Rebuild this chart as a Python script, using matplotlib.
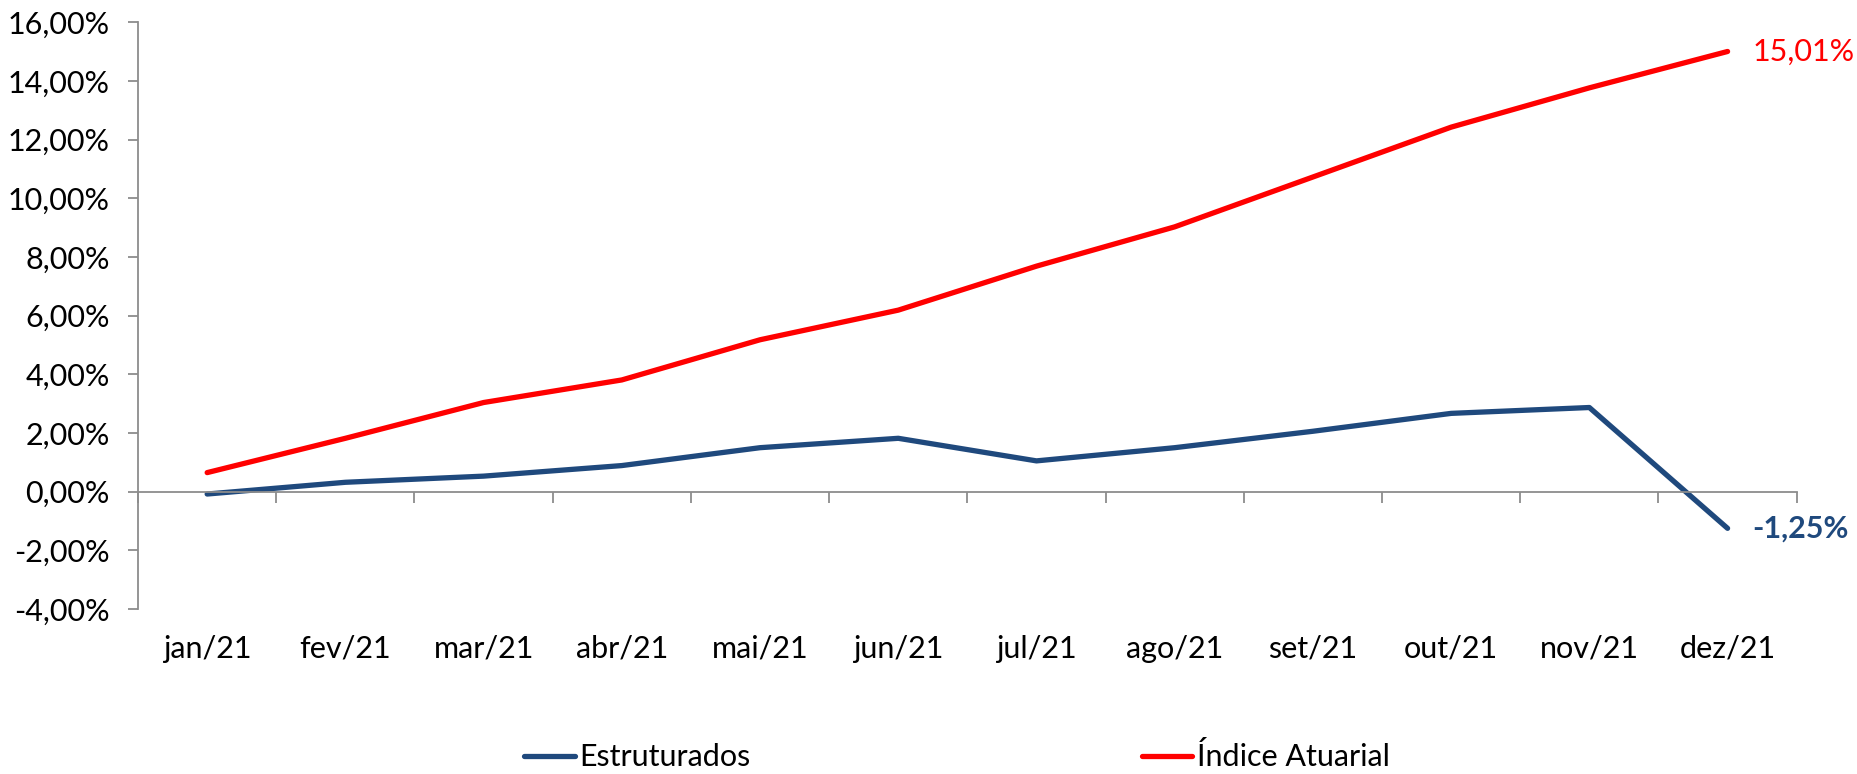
import matplotlib.pyplot as plt
from matplotlib.ticker import FuncFormatter, FixedLocator
import numpy as np

plt.rcParams['font.family'] = ['Lato', 'DejaVu Sans']

meses = ['jan/21', 'fev/21', 'mar/21', 'abr/21', 'mai/21', 'jun/21',
         'jul/21', 'ago/21', 'set/21', 'out/21', 'nov/21', 'dez/21']
estruturados = [-0.08, 0.32, 0.53, 0.89, 1.50, 1.82, 1.05, 1.50, 2.06, 2.67, 2.87, -1.25]
indice_atuarial = [0.65, 1.82, 3.04, 3.81, 5.18, 6.19, 7.69, 9.03, 10.73, 12.43, 13.77, 15.01]

azul = '#1F497D'
vermelho = '#FF0000'
cinza = '#8C8C8C'
fs = 22

fig = plt.figure(figsize=(18.58, 7.74), dpi=100)
ax = fig.add_axes([0.0743, 0.2132, 0.8927, 0.7578])

x = np.arange(len(meses))
ax.plot(x, estruturados, color=azul, lw=3.8, solid_capstyle='round', label='Estruturados')
ax.plot(x, indice_atuarial, color=vermelho, lw=3.8, solid_capstyle='round', label='Índice Atuarial')

ax.set_xlim(-0.5, len(meses) - 0.5)
ax.set_ylim(-4, 16)
ax.set_yticks(np.arange(-4, 17, 2))
ax.yaxis.set_major_formatter(FuncFormatter(lambda v, p: f'{v:.2f}%'.replace('.', ',')))

# eixo x cruza em zero, rótulos dos meses ficam embaixo
for s in ['top', 'right']:
    ax.spines[s].set_visible(False)
ax.spines['bottom'].set_position(('data', 0))
for s in ['left', 'bottom']:
    ax.spines[s].set_color(cinza)
    ax.spines[s].set_linewidth(1.3)
ax.xaxis.set_major_locator(FixedLocator(np.arange(-0.5, len(meses), 1.0)))
ax.set_xticklabels([])
ax.tick_params(axis='x', direction='out', length=8, width=1.3, color=cinza)
ax.tick_params(axis='y', direction='out', length=7.5, width=1.3, color=cinza,
               labelsize=fs, pad=13)
for i, m in enumerate(meses):
    ax.text(i, -0.068, m, transform=ax.get_xaxis_transform(),
            ha='center', va='center', fontsize=fs)

ax.annotate('15,01%', (x[-1], indice_atuarial[-1]), xytext=(18, 0),
            textcoords='offset points', va='center', ha='left',
            color=vermelho, fontsize=fs)
ax.annotate('-1,25%', (x[-1], estruturados[-1]), xytext=(18, 0),
            textcoords='offset points', va='center', ha='left',
            color=azul, fontsize=fs, fontweight='bold')

fig.legend(loc='center', bbox_to_anchor=(0.515, 0.022), ncol=2, frameon=False,
           fontsize=fs, handlelength=1.65, handletextpad=0.15, columnspacing=12.8)

fig.savefig('out.png', dpi=100)
